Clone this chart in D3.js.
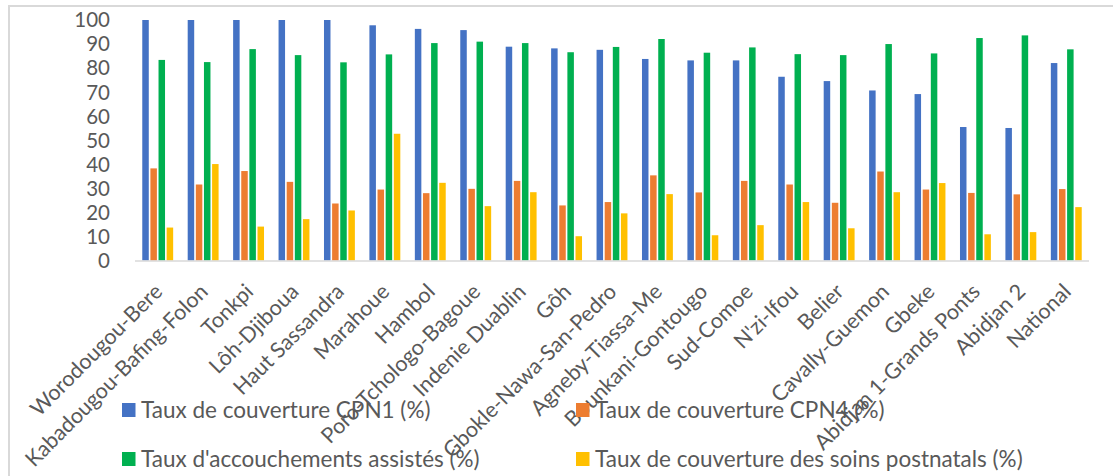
<!DOCTYPE html>
<html>
<head>
<meta charset="utf-8">
<script src="https://cdn.jsdelivr.net/npm/d3@7"></script>
<style>
  html, body { margin: 0; padding: 0; background: #fff; }
  svg { display: block; }
  text { font-family: Lato, "Open Sans", sans-serif; fill: #595959; }
</style>
</head>
<body>
<svg id="chart" width="1113" height="476"></svg>
<script>
const categories = ["Worodougou-Bere","Kabadougou-Bafing-Folon","Tonkpi","Lôh-Djiboua","Haut Sassandra","Marahoue","Hambol","Poro-Tchologo-Bagoue","Indenie Duablin","Gôh","Gbokle-Nawa-San-Pedro","Agneby-Tiassa-Me","Bounkani-Gontougo","Sud-Comoe","N'zi-Ifou","Belier","Cavally-Guemon","Gbeke","Abidjan 1-Grands Ponts","Abidjan 2","National"];
const seriesNames = ["Taux de couverture CPN1 (%)","Taux de couverture CPN4 (%)","Taux d'accouchements assistés (%)","Taux de couverture des soins postnatals (%)"];
const cpn1 = [100,100,100,100,100,97.8,96.3,95.8,88.9,88.2,87.6,83.8,83.2,83.2,76.4,74.6,70.7,69.2,55.5,55.1,82.1];
const cpn4 = [38.3,31.6,37.2,32.7,23.7,29.5,28.0,29.8,33.1,22.9,24.3,35.4,28.3,33.1,31.6,24.0,37.0,29.5,28.1,27.5,29.7];
const accouchements = [83.4,82.5,87.9,85.4,82.4,85.7,90.4,91.0,90.4,86.6,88.8,92.1,86.4,88.6,85.8,85.4,90.0,86.1,92.5,93.6,87.8];
const postnatals = [13.7,40.1,14.1,17.2,20.8,52.7,32.3,22.6,28.4,10.1,19.6,27.6,10.5,14.7,24.3,13.4,28.4,32.2,10.9,11.8,22.2];
const yTicks = [0,10,20,30,40,50,60,70,80,90,100];
const colors = ["#4472C4","#ED7D31","#00B050","#FFC000"];

const seriesValues = [cpn1, cpn4, accouchements, postnatals];
const svg = d3.select("#chart");
const FS_Y = 20.5, FS_X = 21.5, FS = 22.5;

// chart border
svg.append("path").attr("d", "M9,480 L9,6 L1120,6").attr("fill","none").attr("stroke","#d9d9d9").attr("stroke-width",2);

const x0 = d3.scaleBand().domain(categories).range([135,1089]).paddingInner(0.32).paddingOuter(0.16);
const x1 = d3.scaleBand().domain(d3.range(4)).range([0, x0.bandwidth()]).paddingInner(0.2);
const y = d3.scaleLinear().domain([0,100]).range([260.5, 20]);

// y tick labels
svg.append("g").selectAll("text").data(yTicks).join("text")
  .attr("x", 110).attr("y", d => y(d)).attr("dy","0.36em")
  .attr("text-anchor","end").style("font-size", FS_Y+"px").text(d => d);

// bars
const groups = svg.append("g").selectAll("g").data(categories).join("g")
  .attr("transform", d => `translate(${x0(d)},0)`);
groups.selectAll("rect").data((d,i) => seriesValues.map((s,k) => ({k, v: s[i]}))).join("rect")
  .attr("x", d => x1(d.k)).attr("width", x1.bandwidth())
  .attr("y", d => y(d.v)).attr("height", d => y(0) - y(d.v))
  .attr("fill", d => colors[d.k]);

// baseline
svg.append("line").attr("x1",135).attr("x2",1089).attr("y1",y(0)+0.5).attr("y2",y(0)+0.5)
  .attr("stroke","#d9d9d9").attr("stroke-width",1.5);

// x labels
svg.append("g").selectAll("text").data(categories).join("text")
  .attr("transform", d => `translate(${x0(d)+x0.bandwidth()/2+6},293) rotate(-45)`)
  .attr("text-anchor","end").style("font-size", FS_X+"px").text(d => d);

// legend
const legendPos = [[122,403],[576,403],[122,452],[576,452]];
const leg = svg.append("g").selectAll("g").data(seriesNames).join("g")
  .attr("transform", (d,i) => `translate(${legendPos[i][0]},${legendPos[i][1]})`);
leg.append("rect").attr("width",13.5).attr("height",14).attr("fill",(d,i)=>colors[i]);
leg.append("text").attr("x",19).attr("y",14.5).style("font-size", FS+"px").text(d => d);
</script>
</body>
</html>
